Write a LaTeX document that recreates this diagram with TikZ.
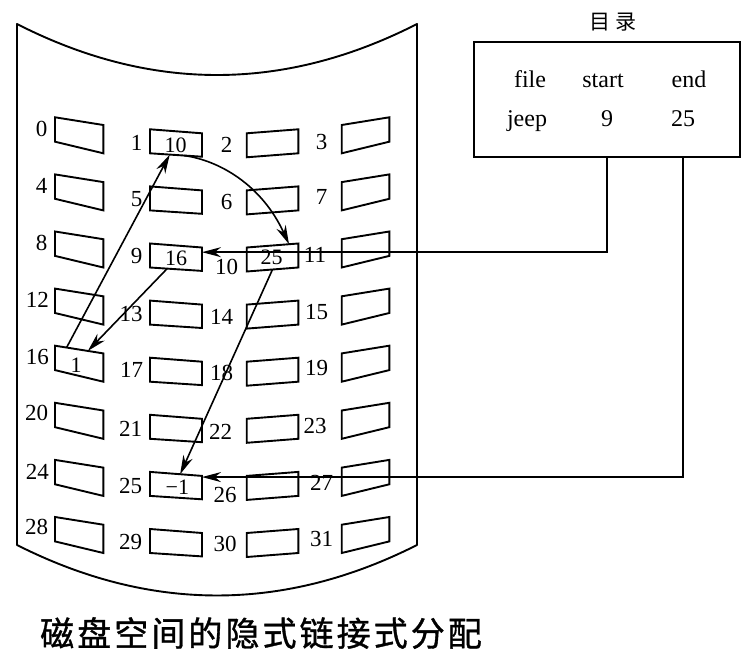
\documentclass[tikz,border=0pt]{standalone}
\usepackage{fontspec}
\setmainfont{Liberation Serif}
\newfontfamily\cjk{Noto Sans CJK SC}
\newfontfamily\cjktitle{Noto Sans CJK SC}[LetterSpace=9,FakeBold=1]
\usetikzlibrary{arrows.meta,calc}
\begin{document}
\begin{tikzpicture}[x=1pt,y=-1pt,
  outline/.style={line width=1.9pt, line join=round},
  blk/.style={line width=1.9pt, line join=miter},
  lab/.style={inner sep=0pt, font=\fontsize{23}{25}\selectfont},
  val/.style={inner sep=0pt, font=\fontsize{22}{24}\selectfont},
  dirbox/.style={draw, line width=1.9pt, inner sep=0pt},
  dirtext/.style={inner sep=0pt, anchor=base, font=\fontsize{24}{26}\selectfont},
  link/.style={line width=1.6pt, -{Stealth[length=19pt,width=10pt]}}]

\useasboundingbox[fill=white] (0,0) rectangle (755,663);

% disk surface: two vertical sides joined by two parabolic arcs
\draw[outline] (17,24) -- (17,545)
  .. controls (150.3,612.3) and (283.7,612.3) .. (417,545)
  -- (417,24)
  .. controls (283.7,92) and (150.3,92) .. (17,24) -- cycle;

% 32 blocks, 4 columns x 8 rows; each column is bent to follow the surface
\foreach \c/\xa/\xb/\ya/\yb/\yc/\yd in {
    0/55/103.3/117.3/125/153.3/141.7,
    1/150/202/129.3/133.3/156.7/153.3,
    2/246.7/298.3/133.3/129.3/153.3/157.3,
    3/341.7/389.3/125/117.3/141.7/153.3}{
  \foreach \r in {0,...,7}{
    \pgfmathtruncatemacro\n{4*\r+\c}
    \coordinate (b\n-tl) at (\xa,\ya+\r*57.1);
    \coordinate (b\n-tr) at (\xb,\yb+\r*57.1);
    \coordinate (b\n-br) at (\xb,\yc+\r*57.1);
    \coordinate (b\n-bl) at (\xa,\yd+\r*57.1);
    \draw[blk] (b\n-tl) -- (b\n-tr) -- (b\n-br) -- (b\n-bl) -- cycle;
  }
}

% block numbers
\foreach \n/\x/\y in {
  0/41.7/129, 1/136.7/143.3, 2/226.7/145, 3/321.7/141.7,
  4/41.7/186, 5/136.7/199.3, 6/226.7/201.7, 7/321.7/196.7,
  8/41.7/242.7, 9/136.7/256, 10/226.7/266.7, 11/315/255,
  12/37.3/300, 13/131/314.3, 14/221.7/316.7, 15/316.7/312.3,
  16/37.3/356.7, 17/131.7/370, 18/221.7/373.3, 19/316.7/368.3,
  20/36.7/412.7, 21/130.7/429.3, 22/220.7/431.7, 23/315/425.7,
  24/37.3/471.7, 25/130.7/486, 26/225/495, 27/321.7/483.3,
  28/36.7/527.3, 29/130.7/541.7, 30/225/544, 31/321.7/539.3}{
  \node[lab] (l\n) at (\x,\y) {\n};
}

% pointers stored in the blocks of file jeep
\node[val] (v1)  at (175.7,145) {10};
\node[val] (v9)  at (176,258)   {16};
\node[val] (v10) at (271.7,257) {25};
\node[val] (v16) at (76,365)    {1};
\node[val] (v25) at (177.3,487) {−1};

% directory
\node[inner sep=0pt, font=\cjk\fontsize{21}{24}\selectfont] (dirtitle) at (613,22) {目 录};
\node[dirbox, minimum width=266pt, minimum height=115pt] (dir) at (607,99.5) {};
\node[dirtext] (hfile)  at (530,87.3) {file};
\node[dirtext] (hstart) at (603,87.3) {start};
\node[dirtext] (hend)   at (689,87.3) {end};
\node[dirtext] (fjeep)  at (527,126.7) {jeep};
\node[dirtext] (fstart) at (607,126.7) {9};
\node[dirtext] (fend)   at (683,126.7) {25};

% connector end points on the block edges
\coordinate (in9)   at ($(b9-tr)!0.2!(b9-br)$);
\coordinate (in25)  at ($(b25-tr)!0.05!(b25-br)$);
\coordinate (out9)  at ($(b9-bl)!0.33!(b9-br)$);
\coordinate (in16)  at ($(b16-tl)!0.68!(b16-tr)$);
\coordinate (out16) at ($(b16-tl)!0.24!(b16-tr)$);
\coordinate (in1)   at ($(b1-bl)!0.38!(b1-br)$);
\coordinate (out1)  at ($(b1-bl)!0.65!(b1-br)$);
\coordinate (in10)  at ($(b10-tl)!0.82!(b10-tr)$);
\coordinate (out10) at ($(b10-bl)!0.5!(b10-br)$);
\coordinate (in25t) at ($(b25-tl)!0.58!(b25-tr)$);

% directory entries point to the first and last blocks
\draw[link] (fstart |- dir.south) |- (in9);
\draw[link] (fend |- dir.south) |- (in25);

% chain of blocks 9 -> 16 -> 1 -> 10 -> 25
\draw[link] (out9) -- (in16);
\draw[link] (out16) -- (in1);
\draw[link] (out1) .. controls ($(out1)+(36,5)$) and ($(in10)+(-27,-59)$) .. (in10);
\draw[link] (out10) -- (in25t);

% caption
\node[inner sep=0pt, anchor=west, font=\cjktitle\fontsize{34}{38}\selectfont] (caption) at (40,633) {磁盘空间的隐式链接式分配};
\end{tikzpicture}
\end{document}
